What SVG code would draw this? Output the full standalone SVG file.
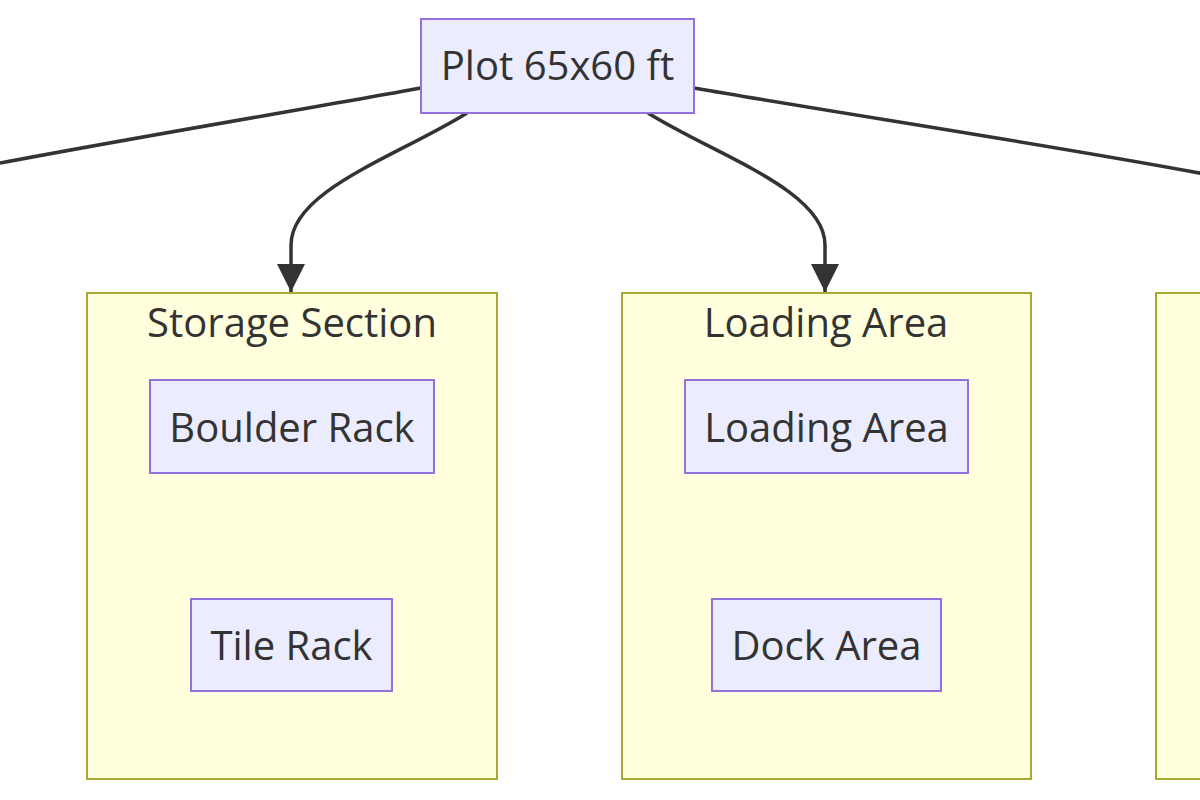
<svg xmlns="http://www.w3.org/2000/svg" width="1200" height="800" viewBox="0 0 1200 800">
<defs>
<style>
.node rect{fill:#ECECFF;stroke:#9370DB;stroke-width:2}
.cluster rect{fill:#FFFFDE;stroke:#AAAA33;stroke-width:2}
text{font-family:"Open Sans","Noto Sans",sans-serif;font-size:40px;fill:#333;text-anchor:middle}
.edge{fill:none;stroke:#333;stroke-width:3.5}
</style>
<marker id="arrow" viewBox="0 0 10 10" refX="10" refY="5" markerUnits="userSpaceOnUse" markerWidth="30" markerHeight="28" orient="auto">
<path d="M0,0 L10,5 L0,10 z" fill="#333"/>
</marker>
</defs>
<rect width="1200" height="800" fill="#fff"/>
<g id="cluster-storage" class="cluster">
<rect x="87" y="293" width="410" height="486"/>
<text x="292" y="337">Storage Section</text>
</g>
<g id="cluster-loading" class="cluster">
<rect x="622" y="293" width="409" height="486"/>
<text x="826" y="337">Loading Area</text>
</g>
<g id="cluster-third" class="cluster">
<rect x="1156" y="293" width="80" height="486"/>
</g>
<g id="connectors">
<path class="edge" d="M421,88 C300,110 120,140 -10,165"/>
<path class="edge" d="M694,88 C850,115 1050,145 1210,175"/>
<path class="edge" d="M467,113 C400,155 291,190 291,245 L291,292" marker-end="url(#arrow)"/>
<path class="edge" d="M648,113 C715,155 825,190 825,245 L825,292" marker-end="url(#arrow)"/>
</g>
<g id="node-plot" class="node">
<rect x="421" y="19" width="273" height="94"/>
<text x="557.5" y="80">Plot 65x60 ft</text>
</g>
<g id="node-boulder" class="node">
<rect x="150" y="380" width="284" height="93"/>
<text x="292" y="442">Boulder Rack</text>
</g>
<g id="node-tile" class="node">
<rect x="191" y="599" width="201" height="92"/>
<text x="291.5" y="660">Tile Rack</text>
</g>
<g id="node-loading" class="node">
<rect x="685" y="380" width="283" height="93"/>
<text x="826.5" y="442">Loading Area</text>
</g>
<g id="node-dock" class="node">
<rect x="712" y="599" width="229" height="92"/>
<text x="826.5" y="660">Dock Area</text>
</g>
</svg>
